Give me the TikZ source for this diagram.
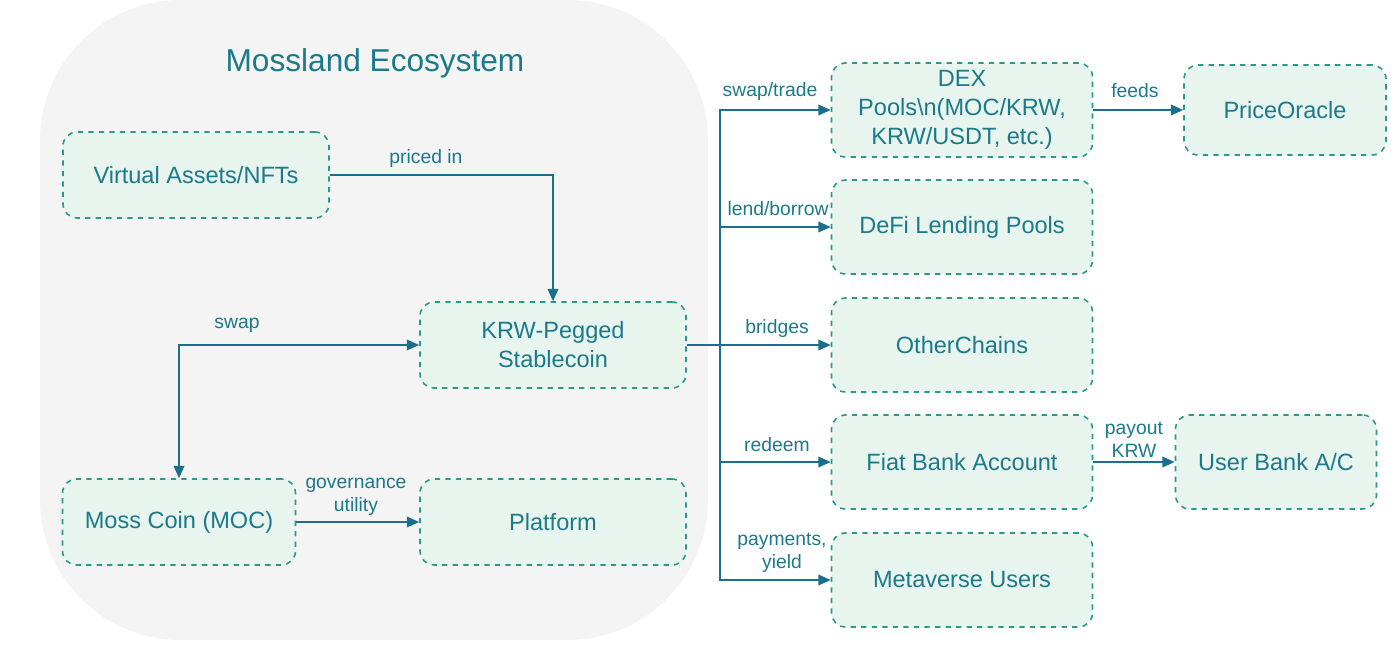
\documentclass[tikz,border=0pt]{standalone}
\usepackage{fontspec}
\setmainfont{Liberation Sans}
\usetikzlibrary{arrows.meta,positioning}
\definecolor{tealtext}{HTML}{1B7A8A}
\definecolor{tealline}{HTML}{1B6E8C}
\definecolor{boxfill}{HTML}{E8F4EE}
\definecolor{boxdraw}{HTML}{2A9A86}
\definecolor{bgfill}{HTML}{F4F4F4}
\tikzstyle{block}=[rectangle,rounded corners=8pt,fill=boxfill,draw=boxdraw,dashed,line width=0.9pt,text=tealtext,font=\fontsize{13.4}{16.5}\selectfont,align=center,inner sep=0pt]
\tikzstyle{flow}=[-{Triangle[length=7pt,width=6pt]},draw=tealline,line width=1pt]
\tikzstyle{lbl}=[text=tealtext,font=\fontsize{11}{13}\selectfont,align=center,inner sep=1pt]

\begin{document}
\begin{tikzpicture}[x=0.02cm,y=-0.02cm]
	\useasboundingbox (0,0) rectangle (1400,660);
	\fill [bgfill] (40,0) [rounded corners=80pt] rectangle (708,640);
	\node [text=tealtext,font=\fontsize{18}{22}\selectfont] (title) at (375,63) {Mossland Ecosystem};

	% left group
	\node [style=block,minimum width=266*0.02cm,minimum height=86*0.02cm] (va) at (196,175) {Virtual Assets/NFTs};
	\node [style=block,minimum width=266*0.02cm,minimum height=86*0.02cm] (krw) at (553,345) {KRW-Pegged\\Stablecoin};
	\node [style=block,minimum width=233*0.02cm,minimum height=86*0.02cm] (moc) at (179,522) {Moss Coin (MOC)};
	\node [style=block,minimum width=266*0.02cm,minimum height=86*0.02cm] (plat) at (553,522) {Platform};

	% right group
	\node [style=block,minimum width=261*0.02cm,minimum height=94*0.02cm] (dex) at (962,110) {DEX\\Pools\textbackslash n(MOC/KRW,\\KRW/USDT, etc.)};
	\node [style=block,minimum width=202*0.02cm,minimum height=90*0.02cm] (oracle) at (1285,110) {PriceOracle};
	\node [style=block,minimum width=261*0.02cm,minimum height=94*0.02cm] (defi) at (962,227) {DeFi Lending Pools};
	\node [style=block,minimum width=261*0.02cm,minimum height=94*0.02cm] (chains) at (962,345) {OtherChains};
	\node [style=block,minimum width=261*0.02cm,minimum height=94*0.02cm] (fiat) at (962,462) {Fiat Bank Account};
	\node [style=block,minimum width=201*0.02cm,minimum height=94*0.02cm] (user) at (1276,462) {User Bank A/C};
	\node [style=block,minimum width=261*0.02cm,minimum height=94*0.02cm] (meta) at (962,580) {Metaverse Users};

	\coordinate (trunk) at (720,345);

	\draw [style=flow] (va.east) -| (krw.north);
	\node [style=lbl] at (426,158) {priced in};
	\draw [style=flow,{Triangle[length=7pt,width=6pt]}-{Triangle[length=7pt,width=6pt]}] (moc.north) |- (krw.west);
	\node [style=lbl] at (237,325) {swap};
	\draw [style=flow] (moc) -- (plat);
	\node [style=lbl] at (356,497) {governance\\utility};

	\draw [draw=tealline,line width=1pt] (krw.east) -- (trunk);
	\draw [style=flow] (trunk) |- (dex.west);
	\draw [style=flow] (trunk) |- (defi.west);
	\draw [style=flow] (trunk) -- (chains.west);
	\draw [style=flow] (trunk) |- (fiat.west);
	\draw [style=flow] (trunk) |- (meta.west);
	\node [style=lbl] at (770,91) {swap/trade};
	\node [style=lbl] at (778,209) {lend/borrow};
	\node [style=lbl] at (777,328) {bridges};
	\node [style=lbl] at (777,445) {redeem};
	\node [style=lbl] at (782,553) {payments,\\yield};

	\draw [style=flow] (dex) -- (oracle);
	\node [style=lbl] at (1135,91) {feeds};
	\draw [style=flow] (fiat) -- (user);
	\node [style=lbl] at (1134,440) {payout\\KRW};
\end{tikzpicture}
\end{document}
